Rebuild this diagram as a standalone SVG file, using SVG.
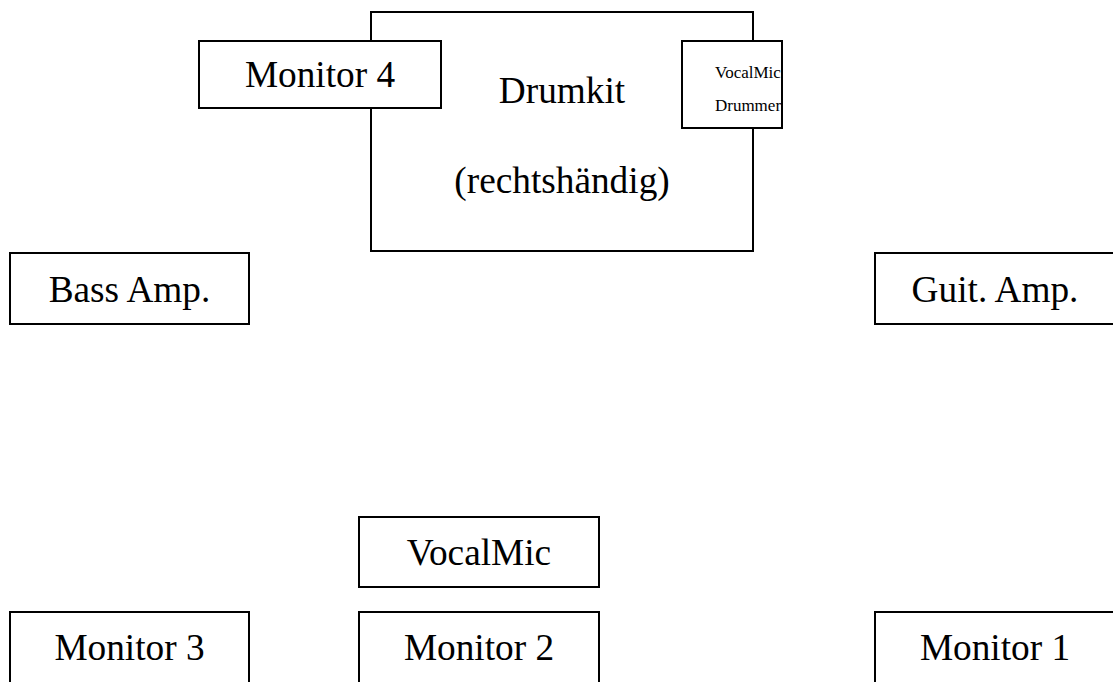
<svg xmlns="http://www.w3.org/2000/svg" width="1113" height="682" viewBox="0 0 1113 682">
<style>
.box{fill:#fff;stroke:#000;stroke-width:2}
.t{font-family:"Liberation Serif","Times New Roman",serif;font-size:37.3px;fill:#000;text-anchor:middle}
.s{font-family:"Liberation Serif","Times New Roman",serif;font-size:17px;fill:#000;text-anchor:middle}
</style>
<rect width="1113" height="682" fill="#fff"/>
<g id="connectors"></g>
<g id="drumkit">
<rect class="box" x="371" y="12" width="382" height="239"/>
<text class="t" x="562" y="103">Drumkit</text>
<text class="t" x="562" y="193">(rechtshändig)</text>
</g>
<g id="monitor4">
<rect class="box" x="199" y="41" width="242" height="67"/>
<text class="t" x="320" y="87">Monitor 4</text>
</g>
<g id="vocalmic-drummer">
<rect class="box" x="682" y="41" width="100" height="87"/>
<text class="s" x="748" y="78">VocalMic</text>
<text class="s" x="748" y="111">Drummer</text>
</g>
<g id="bass-amp">
<rect class="box" x="10" y="253" width="239" height="71"/>
<text class="t" x="129.5" y="302">Bass Amp.</text>
</g>
<g id="guit-amp">
<rect class="box" x="875" y="253" width="240" height="71"/>
<text class="t" x="995" y="302">Guit. Amp.</text>
</g>
<g id="vocalmic">
<rect class="box" x="359" y="517" width="240" height="70"/>
<text class="t" x="479" y="565">VocalMic</text>
</g>
<g id="monitor3">
<rect class="box" x="10" y="612" width="239" height="75"/>
<text class="t" x="129.5" y="660">Monitor 3</text>
</g>
<g id="monitor2">
<rect class="box" x="359" y="612" width="240" height="75"/>
<text class="t" x="479" y="660">Monitor 2</text>
</g>
<g id="monitor1">
<rect class="box" x="875" y="612" width="240" height="75"/>
<text class="t" x="995" y="660">Monitor 1</text>
</g>
</svg>
